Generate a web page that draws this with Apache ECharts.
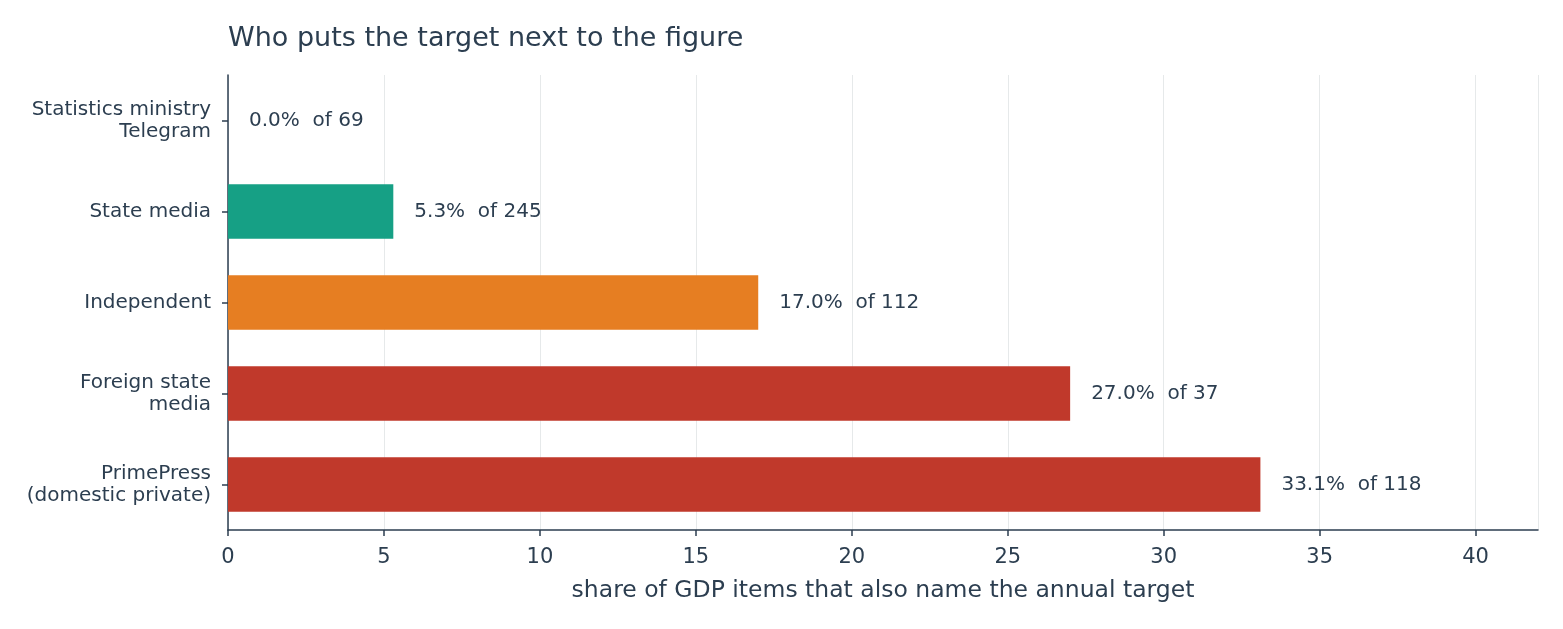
<!DOCTYPE html>
<html>
<head>
<meta charset="utf-8">
<script src="https://cdn.jsdelivr.net/npm/echarts@6/dist/echarts.min.js"></script>
<style>
  html, body { margin: 0; padding: 0; background: #fff; }
  #chart { width: 1563px; height: 629px; }
</style>
</head>
<body>
<div id="chart"></div>
<script>
// categories listed bottom to top (ECharts category y axis starts at the bottom)
const categories = ['PrimePress\n(domestic private)', 'Foreign state\nmedia', 'Independent', 'State media', 'Statistics ministry\nTelegram']
const shares = [33.1, 27.0, 17.0, 5.3, 0.0]
const totals = [118, 37, 112, 245, 69]
const barColors = ['#c0392b', '#c0392b', '#e67e22', '#16a085', '#16a085']

const ink = '#2c3e50'
const font = 'DejaVu Sans'

const chart = echarts.init(document.getElementById('chart'))
chart.setOption({
  animation: false,
  textStyle: { fontFamily: font, color: ink },
  title: {
    text: 'Who puts the target next to the figure',
    left: 223,
    top: 20,
    textStyle: { fontFamily: font, fontSize: 27, fontWeight: 'normal', color: ink }
  },
  grid: { left: 228, right: 25, top: 75, bottom: 99 },
  xAxis: {
    type: 'value',
    min: 0,
    max: 42,
    interval: 5,
    name: 'share of GDP items that also name the annual target',
    nameLocation: 'middle',
    nameGap: 49,
    nameTextStyle: { fontFamily: font, fontSize: 23.5, color: ink },
    axisLine: { show: true, lineStyle: { color: ink, width: 1.5 } },
    axisTick: { show: true, length: 6, lineStyle: { color: ink, width: 1.5 } },
    axisLabel: { fontFamily: font, fontSize: 21, color: ink, margin: 17, showMaxLabel: false },
    splitLine: { show: true, lineStyle: { color: '#e6e9ea', width: 1 } }
  },
  yAxis: {
    type: 'category',
    data: categories,
    axisLine: { show: true, lineStyle: { color: ink, width: 1.5 } },
    axisTick: { show: true, alignWithLabel: true, length: 6, lineStyle: { color: ink, width: 1.5 } },
    axisLabel: { fontFamily: font, fontSize: 20, color: ink, margin: 17, lineHeight: 22, align: 'right' }
  },
  series: [{
    type: 'bar',
    barCategoryGap: '40%',
    data: shares.map((v, i) => ({ value: v, itemStyle: { color: barColors[i] } })),
    label: {
      show: true,
      position: 'right',
      distance: 21,
      fontFamily: font,
      fontSize: 20,
      color: ink,
      formatter: p => p.value.toFixed(1) + '%  of ' + totals[p.dataIndex]
    }
  }]
})
</script>
</body>
</html>
